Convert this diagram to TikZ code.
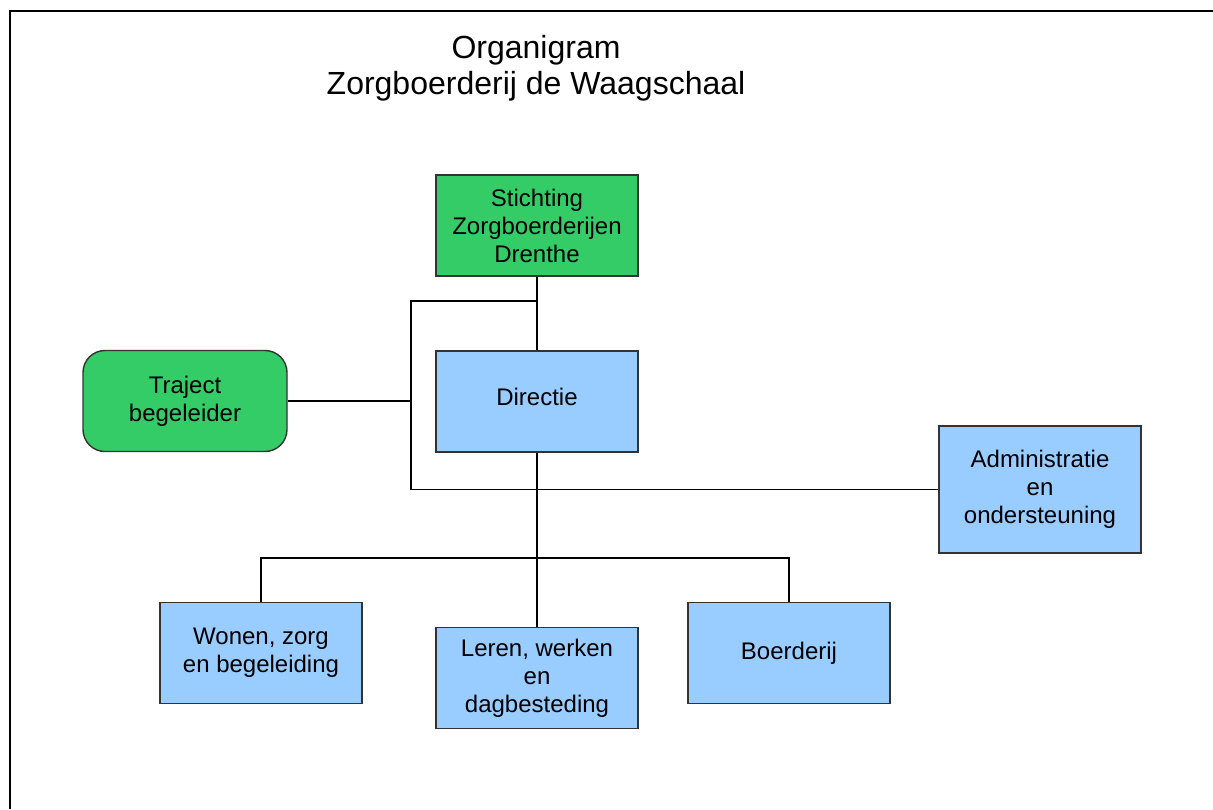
\documentclass[tikz,border=0pt]{standalone}
\usepackage{fontspec}
\setmainfont{Liberation Sans}
\usetikzlibrary{positioning,calc}
\definecolor{zgreen}{HTML}{33CC66}
\definecolor{zblue}{HTML}{99CCFF}
\definecolor{zedge}{HTML}{333333}
\tikzset{
  unit/.style={draw=zedge, line width=1.4pt, fill=zblue, minimum width=202pt,
    minimum height=101pt, inner sep=0pt, align=center,
    font=\fontsize{24}{28}\selectfont},
  board/.style={unit, fill=zgreen},
  link/.style={line width=1.7pt, black}
}
\begin{document}
\begin{tikzpicture}[x=1pt,y=-1pt]
  \useasboundingbox (0,0) rectangle (1213,809);
  \draw [line width=1.7pt] (10,809) -- (10,11) -- (1213,11);
  \node [align=center, font=\fontsize{32}{36}\selectfont] (title) at (536,68)
    {Organigram\\Zorgboerderij de Waagschaal};
  % boxes
  \node [board] (stichting) at (537,225.5) {Stichting\\Zorgboerderijen\\Drenthe};
  \node [unit] (directie) at (537,401.5) {Directie\\[-19pt]};
  \node [board, rounded corners=22pt, minimum width=204pt] (traject) at (185,401) {Traject\\begeleider};
  \node [unit, minimum height=127pt] (admin) at (1040,489.5) {Administratie\\en\\ondersteuning};
  \node [unit] (wonen) at (261,653) {Wonen, zorg\\en begeleiding};
  \node [unit] (leren) at (537,678) {Leren, werken\\en\\dagbesteding};
  \node [unit] (boerderij) at (789,653) {Boerderij};
  % connectors
  \coordinate (staf) at (411,301);
  \coordinate (bus) at (537,558);
  \draw [link] (stichting.south) -- (directie.north);
  \draw [link] (directie.south) -- (leren.north);
  \draw [link] (stichting.south |- staf) -- (staf) |- (admin.west);
  \draw [link] (traject.east) -- (traject.east -| staf);
  \draw [link] (wonen.north) |- (bus) -| (boerderij.north);
\end{tikzpicture}
\end{document}
